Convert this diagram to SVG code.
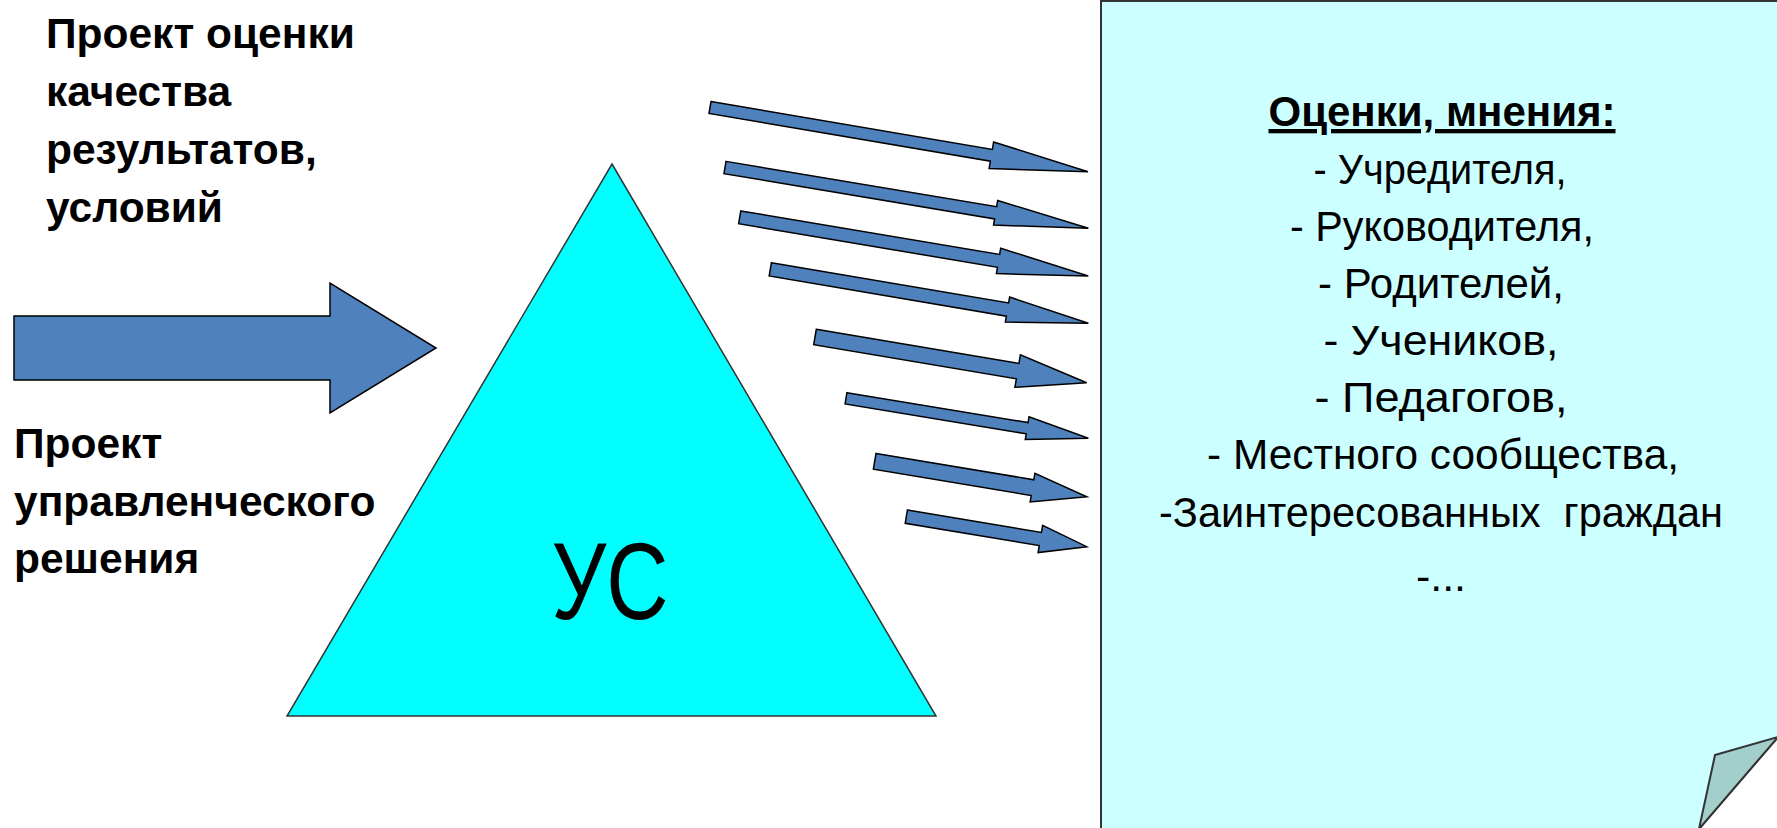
<svg xmlns="http://www.w3.org/2000/svg" width="1777" height="828" viewBox="0 0 1777 828">
<style>
.lbl{font-family:"Liberation Sans",Arial,sans-serif;font-weight:bold;font-size:42.5px;fill:#000}
.box{font-family:"Liberation Sans",Arial,sans-serif;font-size:43px;fill:#000;text-anchor:middle}
.arr{fill:#4F81BD;stroke:#000;stroke-width:1.5;stroke-linejoin:miter}
</style>
<rect width="1777" height="828" fill="#fff"/>
<g id="note">
<path d="M1101,1 H1778 V737 L1699,829 H1101 Z" fill="#CCFFFF" stroke="#333" stroke-width="2"/>
<polygon points="1715,755 1778,737 1699,829" fill="#A2CFCC" stroke="#333" stroke-width="2" stroke-linejoin="round"/>
<text class="box" x="1442" y="126" font-weight="bold" font-size="40" text-decoration="underline" textLength="347" lengthAdjust="spacingAndGlyphs">Оценки, мнения:</text>
<text class="box" x="1440" y="184" textLength="253" lengthAdjust="spacingAndGlyphs">- Учредителя,</text>
<text class="box" x="1442" y="241" textLength="304" lengthAdjust="spacingAndGlyphs">- Руководителя,</text>
<text class="box" x="1441" y="298" textLength="246" lengthAdjust="spacingAndGlyphs">- Родителей,</text>
<text class="box" x="1441" y="355" textLength="235" lengthAdjust="spacingAndGlyphs">- Учеников,</text>
<text class="box" x="1441" y="412" textLength="253" lengthAdjust="spacingAndGlyphs">- Педагогов,</text>
<text class="box" x="1443" y="469" textLength="472" lengthAdjust="spacingAndGlyphs">- Местного сообщества,</text>
<text class="box" x="1441" y="527" xml:space="preserve" textLength="564" lengthAdjust="spacingAndGlyphs">-Заинтересованных  граждан</text>
<text class="box" x="1441" y="591">-...</text>
</g>
<g id="triangle">
<polygon points="612,164 936,716 287,716" fill="#00FFFF" stroke="#333" stroke-width="1.5"/>
<text x="610" y="619" font-family="Liberation Sans, Arial, sans-serif" font-size="110" text-anchor="middle" textLength="117" lengthAdjust="spacingAndGlyphs">УС</text>
</g>
<g id="label-top">
<text class="lbl" x="46" y="48">Проект оценки</text>
<text class="lbl" x="46" y="106">качества</text>
<text class="lbl" x="46" y="164">результатов,</text>
<text class="lbl" x="46" y="222">условий</text>
</g>
<g id="label-bottom">
<text class="lbl" x="14" y="458">Проект</text>
<text class="lbl" x="14" y="516">управленческого</text>
<text class="lbl" x="14" y="573">решения</text>
</g>
<g id="connectors">
<polygon class="arr" points="14,316 330,316 330,283 436,348 330,413 330,380 14,380"/>
<polygon class="arr" transform="translate(710,107.5) rotate(9.64)" points="0,-6 285.4,-6 285.4,-13.5 383.4,0 285.4,13.5 285.4,6 0,6"/>
<polygon class="arr" transform="translate(725,167.5) rotate(9.5)" points="0,-6.2 274.4,-6.2 274.4,-12.5 368.4,0 274.4,12.5 274.4,6.2 0,6.2"/>
<polygon class="arr" transform="translate(739.7,217.3) rotate(9.56)" points="0,-6.5 262.5,-6.5 262.5,-12.9 353.5,0 262.5,12.9 262.5,6.5 0,6.5"/>
<polygon class="arr" transform="translate(770.3,269.3) rotate(9.64)" points="0,-6.7 240.6,-6.7 240.6,-12.7 322.6,0 240.6,12.7 240.6,6.7 0,6.7"/>
<polygon class="arr" transform="translate(815,337) rotate(9.55)" points="0,-7.8 205.5,-7.8 205.5,-16.4 275.5,0 205.5,16.4 205.5,7.8 0,7.8"/>
<polygon class="arr" transform="translate(846,398.3) rotate(9.37)" points="0,-5.7 183.6,-5.7 183.6,-11.5 245.6,0 183.6,11.5 183.6,5.7 0,5.7"/>
<polygon class="arr" transform="translate(874.7,461.3) rotate(9.48)" points="0,-8 160,-8 160,-14.5 215,0 160,14.5 160,8 0,8"/>
<polygon class="arr" transform="translate(906.3,516.7) rotate(9.44)" points="0,-6.7 135.9,-6.7 135.9,-13.8 182.9,0 135.9,13.8 135.9,6.7 0,6.7"/>
</g>
</svg>
